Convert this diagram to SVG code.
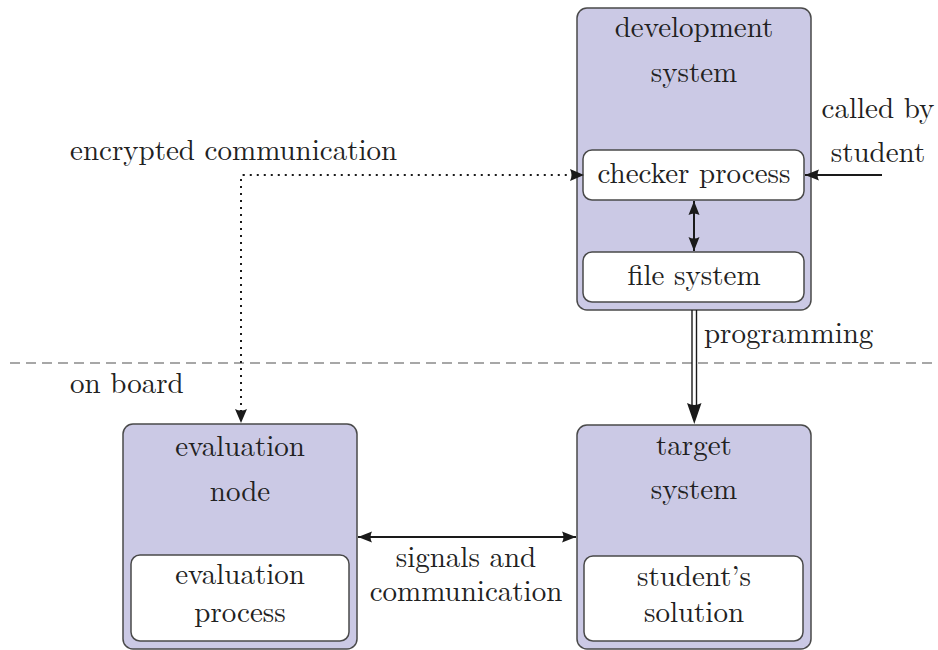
<svg xmlns="http://www.w3.org/2000/svg" width="938" height="650" viewBox="0 0 938 650">
  <style>
    .outer { fill: #cbc9e5; stroke: #4a4a4a; stroke-width: 1.5; }
    .inner { fill: #ffffff; stroke: #4a4a4a; stroke-width: 1.5; }
    text { font-family: 'Latin Modern Roman', 'CMU Serif', 'Liberation Serif', 'DejaVu Serif', serif; font-size: 29px; fill: #222222; }
    .c { text-anchor: middle; }
    .line { fill: none; stroke: #1a1a1a; stroke-width: 2; }
    .dotted { fill: none; stroke: #1a1a1a; stroke-width: 2; stroke-dasharray: 2 5; }
    .sep { fill: none; stroke: #8a8a8a; stroke-width: 1.3; stroke-dasharray: 10 6; }
  </style>
  <defs>
    <marker id="head" markerUnits="userSpaceOnUse" markerWidth="15" markerHeight="12" refX="14" refY="6" orient="auto-start-reverse">
      <path d="M0,0.5 L14,6 L0,11.5 Q3,6 0,0.5 Z" fill="#1a1a1a"/>
    </marker>
  </defs>

  <!-- boundary between host side and board -->
  <line class="sep" x1="10" y1="363" x2="938" y2="363"/>
  <text x="70" y="393">on board</text>

  <!-- development system -->
  <g id="development-system">
    <rect class="outer" x="577" y="8" width="234" height="302" rx="10"/>
    <text class="c" x="694" y="37">development</text>
    <text class="c" x="694" y="82">system</text>
  </g>
  <g id="checker-process">
    <rect class="inner" x="583" y="150" width="221" height="50" rx="9"/>
    <text class="c" x="694" y="183">checker process</text>
  </g>
  <g id="file-system">
    <rect class="inner" x="583" y="252" width="221" height="50" rx="9"/>
    <text class="c" x="694" y="285">file system</text>
  </g>

  <!-- evaluation node -->
  <g id="evaluation-node">
    <rect class="outer" x="123" y="424" width="234" height="225" rx="10"/>
    <text class="c" x="240" y="456">evaluation</text>
    <text class="c" x="240" y="501">node</text>
  </g>
  <g id="evaluation-process">
    <rect class="inner" x="131" y="555" width="218" height="86" rx="9"/>
    <text class="c" x="240" y="584">evaluation</text>
    <text class="c" x="240" y="622">process</text>
  </g>

  <!-- target system -->
  <g id="target-system">
    <rect class="outer" x="577" y="425" width="234" height="224" rx="10"/>
    <text class="c" x="694" y="455">target</text>
    <text class="c" x="694" y="499">system</text>
  </g>
  <g id="students-solution">
    <rect class="inner" x="584" y="556" width="219" height="85" rx="9"/>
    <text class="c" x="694" y="586">student’s</text>
    <text class="c" x="694" y="622">solution</text>
  </g>

  <!-- connectors -->
  <g id="connectors">
    <!-- external call -->
    <line class="line" x1="882" y1="175" x2="805" y2="175" marker-end="url(#head)"/>
    <text class="c" x="878" y="118">called by</text>
    <text class="c" x="878" y="162">student</text>

    <!-- checker process <-> file system -->
    <line class="line" x1="694" y1="201" x2="694" y2="251" marker-start="url(#head)" marker-end="url(#head)"/>

    <!-- encrypted link -->
    <path class="dotted" d="M241,412 L241,176 Q241,175 243,175 L571,175"/>
    <path d="M570,169 L584,175 L570,181 Q573,175 570,169 Z" fill="#1a1a1a"/>
    <path d="M235,409 L241,423 L247,409 Q241,412 235,409 Z" fill="#1a1a1a"/>
    <text x="70" y="160">encrypted communication</text>

    <!-- programming (double line) -->
    <line class="line" x1="692" y1="310" x2="692" y2="406" style="stroke-width:1.4"/>
    <line class="line" x1="696.5" y1="310" x2="696.5" y2="406" style="stroke-width:1.4"/>
    <path d="M687,403 L694.3,424 L701.5,403 Q694.3,407 687,403 Z" fill="#1a1a1a"/>
    <text x="704" y="343">programming</text>

    <!-- signals between evaluation node and target -->
    <line class="line" x1="358" y1="537" x2="576" y2="537" marker-start="url(#head)" marker-end="url(#head)"/>
    <text class="c" x="466" y="567">signals and</text>
    <text class="c" x="466" y="601">communication</text>
  </g>
</svg>
